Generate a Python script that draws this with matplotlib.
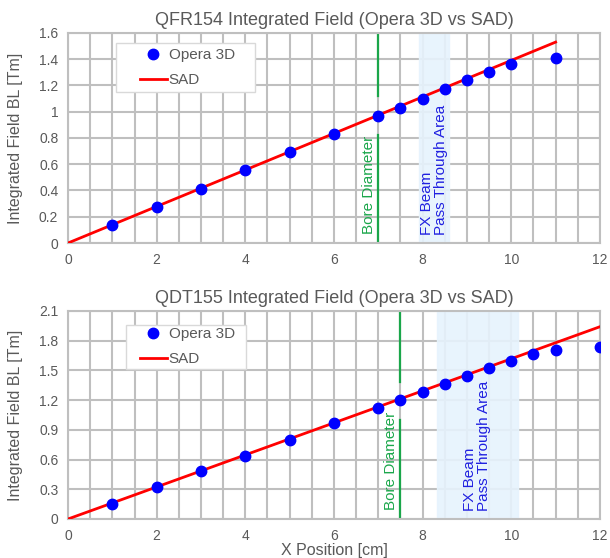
import numpy as np
import matplotlib
matplotlib.use("Agg")
import matplotlib.pyplot as plt
from matplotlib.ticker import MultipleLocator
from matplotlib.patches import Rectangle

plt.rcParams['font.family'] = ['Liberation Sans', 'DejaVu Sans']

######## Data ################################################################

# QFR154 (top)
qfr_x = [1, 2, 3, 4, 5, 6, 7, 7.5, 8, 8.5, 9, 9.5, 10, 11]
qfr_opera = [0.14, 0.275, 0.415, 0.555, 0.69, 0.83, 0.965, 1.03, 1.10, 1.17, 1.24, 1.30, 1.36, 1.41]
qfr_sad_x = [0, 11]
qfr_sad_y = [0, 1.53]
qfr_bore = 7.0
qfr_bore_gap = (0.82, 1.12)
qfr_beam = (7.92, 8.6)
qfr_beam_txt_x = 7.93

# QDT155 (bottom)
qdt_x = [1, 2, 3, 4, 5, 6, 7, 7.5, 8, 8.5, 9, 9.5, 10, 10.5, 11, 12]
qdt_opera = [0.155, 0.32, 0.48, 0.64, 0.80, 0.965, 1.12, 1.20, 1.285, 1.365,
             1.445, 1.525, 1.595, 1.665, 1.705, 1.735]
qdt_sad_x = [0, 12]
qdt_sad_y = [0, 1.94]
qdt_bore = 7.5
qdt_bore_gap = (1.0, 1.38)
qdt_beam = (8.32, 10.15)
qdt_beam_txt_x = 8.9

grey = '#595959'
grid_c = '#bfbfbf'


def draw(ax, title, x, opera, sad_x, sad_y, bore, gap, beam, beam_txt_x,
         ymax, ystep, leg_y, frame):
    ax.set_xlim(0, 12)
    ax.set_ylim(0, ymax)
    ax.xaxis.set_major_locator(MultipleLocator(2))
    ax.xaxis.set_minor_locator(MultipleLocator(0.5))
    ax.yaxis.set_major_locator(MultipleLocator(ystep))
    ax.grid(True, which='both', axis='x', color=grid_c, lw=1.5, zorder=0)
    ax.grid(True, which='major', axis='y', color=grid_c, lw=1.5, zorder=0)
    ax.set_axisbelow(True)
    for s in ax.spines.values():
        s.set_color(grid_c)
        s.set_linewidth(1.5)
    ax.tick_params(which='both', length=0, colors=grey, labelsize=10)
    ax.tick_params(axis='x', pad=7)
    ax.tick_params(axis='y', pad=7)

    ax.axvspan(beam[0], beam[1], color='#e6f3fd', zorder=1, alpha=0.9)
    ax.plot([bore, bore], [0, gap[0]], color='#1aa64a', lw=1.6, zorder=2)
    ax.plot([bore, bore], [gap[1], ymax], color='#1aa64a', lw=1.6, zorder=2)

    ax.plot(sad_x, sad_y, color='#ff0000', lw=2, zorder=3, label='SAD')
    ax.plot(x, opera, 'o', color='#0000ff', ms=7.5, zorder=4, label='Opera 3D',
            linestyle='none')

    ax.text(bore - 0.06, ymax * 0.045, 'Bore Diameter', rotation=90, color='#1aa64a',
            fontsize=11, ha='right', va='bottom')
    ax.text(beam_txt_x, ymax * 0.04, 'FX Beam\nPass Through Area', rotation=90,
            color='#2020e0', fontsize=11, ha='left', va='bottom', linespacing=1.0)

    ax.set_title(title, color=grey, fontsize=13, pad=6)
    ax.set_ylabel('Integrated Field BL [Tm]', color=grey, fontsize=11.5)
    ax.yaxis.set_label_coords(-0.085, 0.5)

    # legend frame drawn by hand (Excel-style padding)
    ax.add_patch(Rectangle((frame[0], frame[1]), frame[2] - frame[0], frame[3] - frame[1],
                           transform=ax.transAxes, facecolor='white',
                           edgecolor='#d9d9d9', lw=1.0, zorder=5))
    h, l = ax.get_legend_handles_labels()
    leg = ax.legend(h[::-1], l[::-1], loc='center left', bbox_to_anchor=(0.135, leg_y),
                    frameon=False, fontsize=11, handlelength=1.75,
                    borderpad=0, borderaxespad=0, labelspacing=0.72, handletextpad=0.15)
    leg.set_zorder(6)
    for t in leg.get_texts():
        t.set_color(grey)


fig = plt.figure(figsize=(6.1, 5.58), dpi=100)
ax1 = fig.add_axes([0.1115, 0.5645, 0.872, 0.3765])
ax2 = fig.add_axes([0.1115, 0.0699, 0.872, 0.3730])

draw(ax1, 'QFR154 Integrated Field (Opera 3D vs SAD)', qfr_x, qfr_opera,
     qfr_sad_x, qfr_sad_y, qfr_bore, qfr_bore_gap, qfr_beam, qfr_beam_txt_x,
     1.6, 0.2, 0.836, (0.090, 0.719, 0.3515, 0.952))
draw(ax2, 'QDT155 Integrated Field (Opera 3D vs SAD)', qdt_x, qdt_opera,
     qdt_sad_x, qdt_sad_y, qdt_bore, qdt_bore_gap, qdt_beam, qdt_beam_txt_x,
     2.1, 0.3, 0.827, (0.109, 0.721, 0.3346, 0.933))

ax1.yaxis.set_major_formatter(plt.FuncFormatter(lambda v, p: '%g' % round(v, 2)))
ax2.yaxis.set_major_formatter(plt.FuncFormatter(lambda v, p: '0' if v == 0 else '%.1f' % v))
ax2.set_xlabel('X Position [cm]', color=grey, fontsize=11.5, labelpad=0)

fig.savefig('out.png', dpi=100)
